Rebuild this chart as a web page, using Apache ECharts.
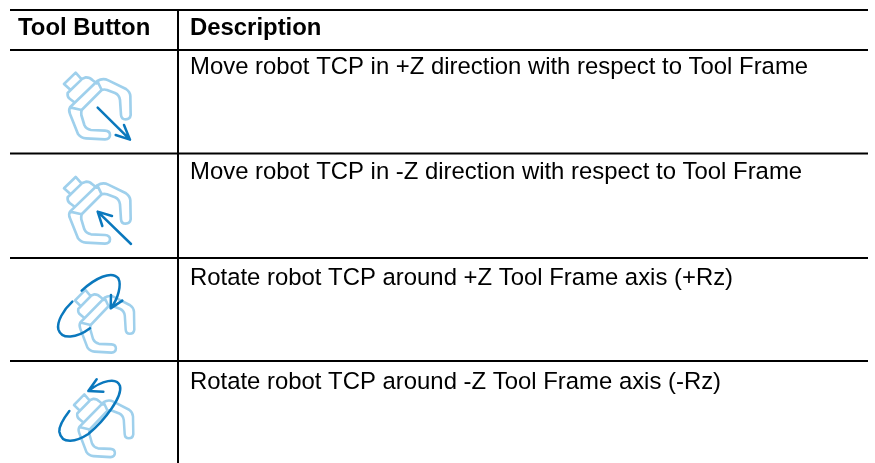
<!DOCTYPE html>
<html>
<head>
<meta charset="utf-8">
<style>html,body{margin:0;padding:0;background:#fff}#chart{width:875px;height:463px}</style>
<script src="https://cdn.jsdelivr.net/npm/echarts@6/dist/echarts.min.js"></script>
</head>
<body>
<div id="chart"></div>
<script>
const headers = ["Tool Button", "Description"];
const descriptions = [
  "Move robot TCP in +Z direction with respect to Tool Frame",
  "Move robot TCP in -Z direction with respect to Tool Frame",
  "Rotate robot TCP around +Z Tool Frame axis (+Rz)",
  "Rotate robot TCP around -Z Tool Frame axis (-Rz)"
];

const LIGHT = "#9fd0ec";
const DARK = "#0a78bd";
const FONT = '"Liberation Sans", Arial, sans-serif';

// gripper outline, traced at 3x from the first icon
const gripper = "M227 218 L245 238 L212 270 L192 252 Z" +
  "M245 237 L258 232 Q270 232 277 240 L290 250" +
  "M212 270 L203 279 Q201 291 210 297 L222 306" +
  "M292 243 L210 322 L245 330 L305 270 L292 243" +
  "M292 243 Q308 233 325 241 L378 267 Q390 275 391 288 L392 345 Q390 358 377 358 Q364 358 363 345 L360 300 Q358 285 345 279 L321 270 Q312 267 305 270" +
  "M210 322 Q205 330 210 342 L234 402 Q243 414 258 415 L315 418 Q330 417 330 405 Q330 393 315 392 L273 390 Q258 387 253 375 L244 345 Q243 336 245 330";

const arrowDown = "M293 323 L390 419 M347 405 L390 419 L372 375";
const arrowUp = "M273 267 L173 170 M216 183 L173 170 L187 213";

const ringPlus = "M150 205 C110 235 65 240 55 208 C50 185 70 150 97 125" +
  "M125 92 C165 55 215 30 235 55 C245 75 235 115 212 145 M213 105 L212 145 L247 122";
const ringMinus = "M145 93 C185 62 230 50 240 78 C248 110 195 180 145 222 C110 245 65 255 58 215 C56 195 75 170 88 153" +
  "M170 58 L145 93 L190 95";

echarts.graphic.registerShape("gripper", echarts.graphic.extendPath(gripper));
echarts.graphic.registerShape("arrowDown", echarts.graphic.extendPath(arrowDown));
echarts.graphic.registerShape("arrowUp", echarts.graphic.extendPath(arrowUp));
echarts.graphic.registerShape("ringPlus", echarts.graphic.extendPath(ringPlus));
echarts.graphic.registerShape("ringMinus", echarts.graphic.extendPath(ringMinus));

const stroke = (color, w) => ({ fill: null, stroke: color, lineWidth: w, lineJoin: "round", lineCap: "round" });
const rule = (x1, y1, x2, y2) => ({
  type: "line", shape: { x1, y1, x2, y2 }, style: { stroke: "#000", lineWidth: 2 }
});
const label = (text, x, y, weight) => ({
  type: "text", x, y,
  style: { text, fill: "#000", font: weight + " 23.9px " + FONT, textVerticalAlign: "middle" }
});
// zoomed traces are 3x, so everything sits in a group scaled to 1/3
const icon = (x, y, sx, sy, type, w) => ({
  type: "group", x, y, scaleX: sx / 3, scaleY: sy / 3,
  children: [{ type, style: stroke(type === "gripper" ? LIGHT : DARK, w) }]
});

const rowLines = [50, 153.5, 258, 361];
const rowText = [67, 172, 278, 382];

const elements = [
  rule(10, 10, 868, 10),
  rule(178, 10, 178, 463)
];
rowLines.forEach((y) => elements.push(rule(10, y, 868, y)));
elements.push(label(headers[0], 18, 28, "bold"), label(headers[1], 190, 28, "bold"));
descriptions.forEach((d, i) => elements.push(label(d, 190, rowText[i], "normal")));

elements.push(
  icon(0, 0, 1, 1, "gripper", 8),
  icon(0, 104.3, 1, 1, "gripper", 8),
  icon(40, 155, 1, 1, "arrowUp", 7.5),
  icon(18, 221.6, 0.89, 0.94, "gripper", 8.5),
  icon(40, 260, 1, 1, "ringPlus", 7.5),
  icon(17, 326.1, 0.89, 0.94, "gripper", 8.5),
  icon(40, 360, 1, 1, "ringMinus", 7.5),
  icon(0, 0, 1, 1, "arrowDown", 7.5)
);

const chart = echarts.init(document.getElementById("chart"));
chart.setOption({ animation: false, backgroundColor: "#fff", graphic: { elements } });
</script>
</body>
</html>
